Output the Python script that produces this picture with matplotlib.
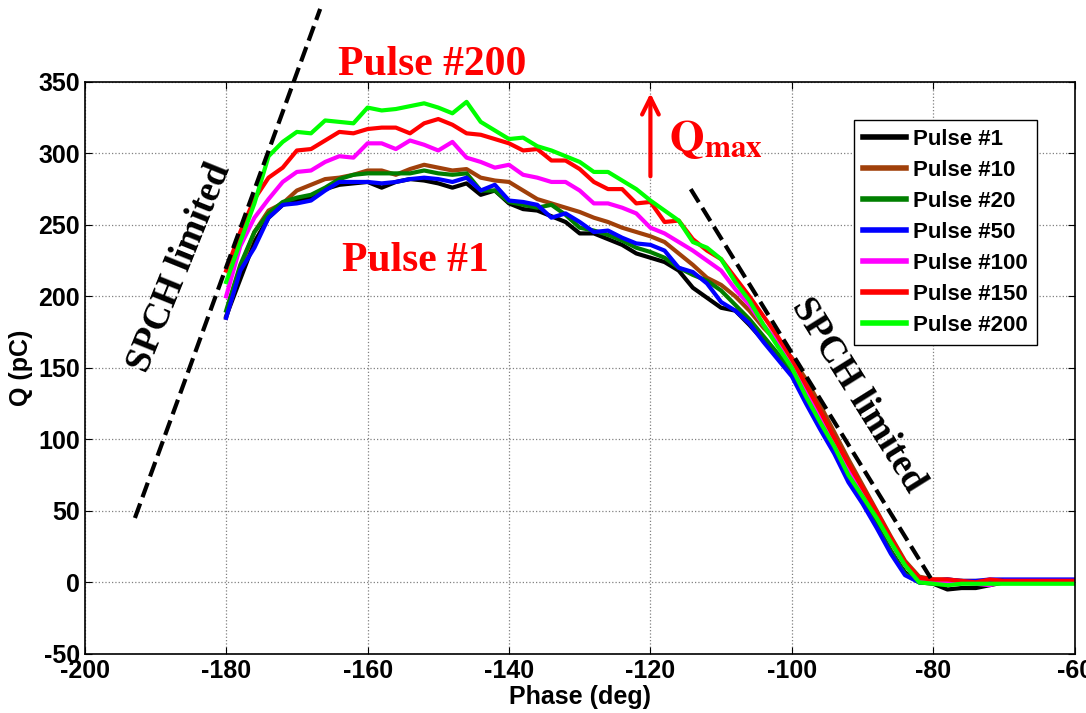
import numpy as np
import matplotlib
matplotlib.use('Agg')
import matplotlib.pyplot as plt

# phase scan (deg), one point every 2 deg
phase = np.arange(-180, -59, 2)

q_p1 = [186, 212, 238, 255, 264, 267, 269, 275, 278, 279,
        280, 276, 280, 282, 281, 279, 276, 279, 271, 274,
        265, 261, 260, 256, 252, 244, 244, 240, 236, 230,
        227, 224, 218, 206, 199, 192, 190, 180, 169, 157,
        147, 130, 112, 94, 75, 57, 40, 22, 7, 0,
        -1, -5, -4, -4, -2, 0, 0, 0, 0, 0, 0]
q_p10 = [185, 220, 245, 260, 265, 274, 278, 282, 283, 285,
         288, 288, 285, 289, 292, 290, 288, 289, 283, 281,
         280, 274, 268, 265, 262, 259, 255, 252, 248, 245,
         242, 238, 230, 222, 213, 208, 200, 190, 178, 168,
         157, 142, 124, 105, 86, 68, 50, 32, 15, 4,
         2, 2, 1, 1, 1, 1, 1, 1, 1, 1, 1]
q_p20 = [190, 222, 245, 258, 266, 269, 271, 276, 282, 285,
         286, 286, 286, 286, 288, 286, 285, 286, 274, 274,
         266, 264, 262, 264, 257, 248, 246, 243, 239, 234,
         231, 227, 220, 215, 211, 204, 194, 184, 172, 160,
         147, 128, 110, 92, 73, 57, 40, 22, 6, 0,
         0, -1, 1, 0, 1, 1, 1, 1, 1, 1, 1]
q_p50 = [185, 218, 234, 255, 264, 265, 267, 274, 280, 280,
         280, 279, 280, 282, 283, 282, 280, 283, 274, 278,
         267, 266, 264, 255, 258, 252, 245, 246, 241, 237,
         236, 232, 220, 217, 209, 196, 190, 181, 168, 156,
         144, 125, 107, 90, 70, 55, 38, 20, 5, 0,
         1, 2, 1, 1, 2, 2, 2, 2, 2, 2, 2]
q_p100 = [200, 235, 255, 268, 280, 287, 288, 294, 298, 297,
          307, 307, 303, 309, 306, 302, 308, 297, 294, 290,
          292, 285, 283, 280, 280, 274, 265, 265, 262, 258,
          248, 244, 238, 232, 225, 218, 205, 194, 180, 168,
          153, 135, 117, 98, 80, 63, 46, 28, 12, 1,
          1, 0, 0, -1, -2, 1, 1, 1, 1, 1, 1]
q_p150 = [218, 245, 268, 283, 290, 302, 303, 309, 315, 314,
          317, 318, 318, 314, 321, 324, 320, 314, 313, 310,
          307, 302, 303, 295, 295, 289, 280, 275, 275, 265,
          266, 252, 253, 240, 232, 226, 213, 200, 186, 172,
          156, 138, 120, 101, 83, 66, 49, 31, 14, 3,
          2, 2, 1, 0, 2, 1, 1, 1, 1, 1, 1]
q_p200 = [210, 238, 265, 298, 308, 315, 314, 323, 322, 321,
          332, 330, 331, 333, 335, 332, 328, 336, 322, 316,
          310, 311, 305, 302, 298, 294, 287, 287, 281, 275,
          267, 260, 253, 238, 234, 226, 210, 197, 180, 165,
          150, 130, 112, 95, 75, 60, 45, 28, 12, 0,
          -1, -2, -1, -1, -1, -1, -1, -1, -1, -1, -1]

series = [q_p1, q_p10, q_p20, q_p50, q_p100, q_p150, q_p200]
labels = ['Pulse #1', 'Pulse #10', 'Pulse #20', 'Pulse #50',
          'Pulse #100', 'Pulse #150', 'Pulse #200']
colors = ['#000000', '#a0400a', '#007f00', '#0000ff',
          '#ff00ff', '#ff0000', '#00ff00']

# space-charge limit guide lines (phase, Q)
spch_left_x = [-192.9, -166.7]
spch_left_y = [45, 401]
spch_right_x = [-114.3, -80.0]
spch_right_y = [275, 0]


def main():
    plt.rcParams['axes.unicode_minus'] = False
    plt.rcParams['mathtext.fontset'] = 'stix'

    fig = plt.figure(figsize=(10.86, 7.13), dpi=100)
    ax = fig.add_axes([0.078, 0.083, 0.9116, 0.8022])

    for q, lab, c in zip(series, labels, colors):
        ax.plot(phase, q, '-', color=c, lw=3, label=lab)

    ax.plot(spch_left_x, spch_left_y, '--', color='k', lw=3, clip_on=False)
    ax.plot(spch_right_x, spch_right_y, '--', color='k', lw=3)

    ax.set_xlim(-200, -60)
    ax.set_ylim(-50, 350)
    ax.set_xticks(np.arange(-200, -59, 20))
    ax.set_yticks(np.arange(-50, 351, 50))
    ax.grid(True, color='#808080', linestyle=':', lw=0.9)
    ax.tick_params(direction='in', top=True, right=True, length=5)
    for lab in ax.get_xticklabels() + ax.get_yticklabels():
        lab.set_fontfamily('Liberation Sans')
        lab.set_fontweight('bold')
        lab.set_fontsize(18)
    for sp in ax.spines.values():
        sp.set_linewidth(1.2)

    ax.set_xlabel('Phase (deg)', fontsize=18, fontweight='bold',
                  family='Liberation Sans', labelpad=2)
    ax.set_ylabel('Q (pC)', fontsize=18, fontweight='bold',
                  family='Liberation Sans', labelpad=4)

    serif = dict(family='Liberation Serif', fontweight='bold')
    ax.text(-150.9, 362, 'Pulse #200', color='red', fontsize=30,
            ha='center', va='center', **serif)
    ax.text(-153.3, 225, 'Pulse #1', color='red', fontsize=30,
            ha='center', va='center', **serif)
    ax.text(-186.5, 220, 'SPCH limited', color='k', fontsize=27,
            rotation=68, rotation_mode='anchor', ha='center', va='center', **serif)
    ax.text(-90.6, 131, 'SPCH limited', color='k', fontsize=27,
            rotation=-58, rotation_mode='anchor', ha='center', va='center', **serif)

    ax.text(-117.4, 310, r'$\mathbf{Q}_{\mathbf{max}}$', color='red',
            fontsize=32, ha='left', va='center')
    ax.annotate('', xy=(-120, 344), xytext=(-120, 282),
                arrowprops=dict(arrowstyle='->', color='red', lw=3,
                                mutation_scale=30))

    leg = ax.legend(loc='upper right', bbox_to_anchor=(0.9616, 0.9336),
                    borderaxespad=0, fancybox=False, framealpha=1,
                    edgecolor='k', handlelength=1.95, handletextpad=0.3,
                    labelspacing=0.45,
                    prop={'family': 'Liberation Sans', 'weight': 'bold',
                          'size': 16})
    leg.get_frame().set_linewidth(1.0)
    for line in leg.get_lines():
        line.set_linewidth(4)

    fig.savefig('out.png', dpi=100)


if __name__ == "__main__":
    main()
